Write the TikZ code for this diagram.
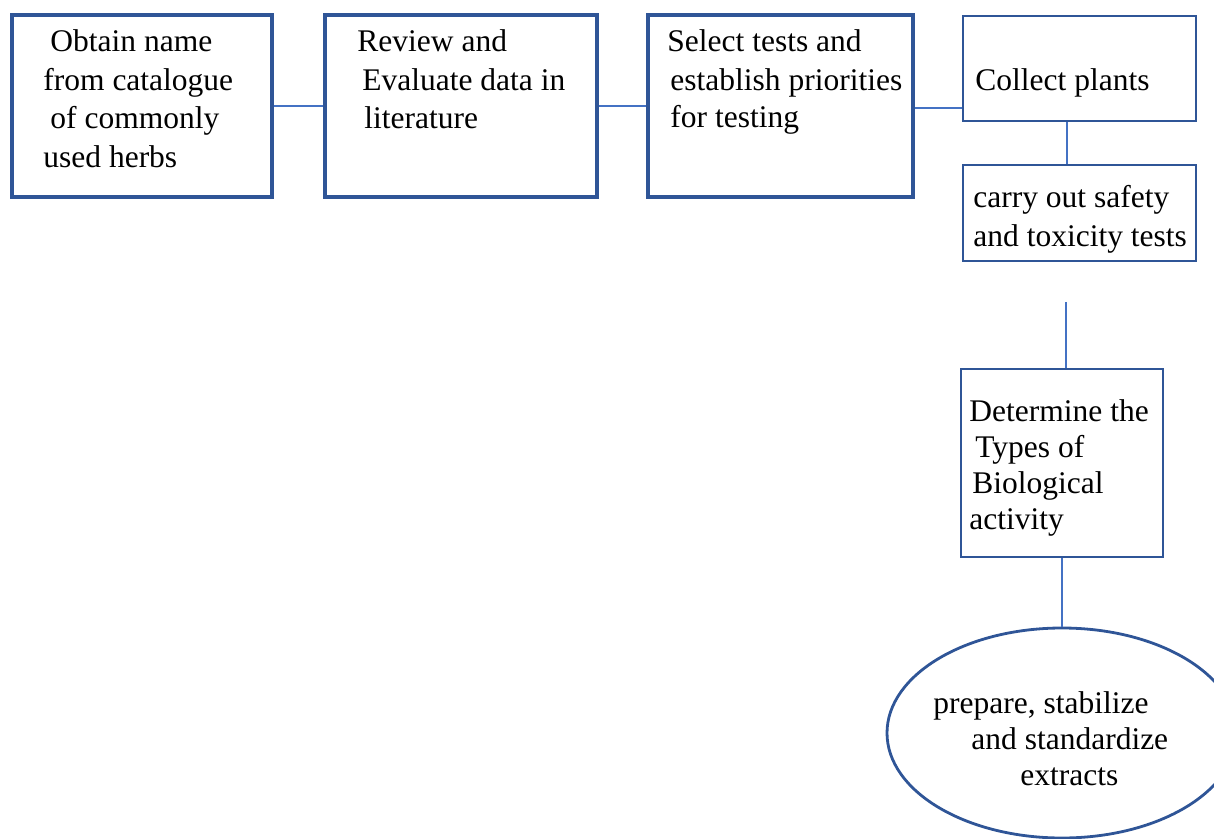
\documentclass[tikz,border=0pt]{standalone}
\usepackage{fontspec}
\setmainfont{Liberation Serif}
\usetikzlibrary{shapes.geometric}
\definecolor{boxblue}{HTML}{2F5597}
\definecolor{linkblue}{HTML}{4472C4}
\tikzset{
  boxthick/.style={draw=boxblue, line width=1.6pt, rectangle, inner sep=0pt, fill=white},
  boxthin/.style={draw=boxblue, line width=1.4pt, rectangle, inner sep=0pt, fill=white},
  oval/.style={draw=boxblue, line width=1.4pt, ellipse, inner sep=0pt, fill=white},
  link/.style={draw=linkblue, line width=0.55pt},
  txt/.style={inner sep=0pt, anchor=base west, font=\fontsize{15.75}{19}\selectfont, text=black}
}
\begin{document}
\begin{tikzpicture}[x=0.5pt,y=-0.5pt]
\useasboundingbox (0,0) rectangle (1214,839);
% boxes
\node[boxthick, minimum width=130pt, minimum height=91pt] (b1) at (142,106) {};
\node[boxthick, minimum width=136pt, minimum height=91pt] (b2) at (461,106) {};
\node[boxthick, minimum width=132.5pt, minimum height=91pt] (b3) at (780.5,106) {};
\node[boxthin, minimum width=116.5pt, minimum height=52.5pt] (b4) at (1079.5,68.5) {};
\node[boxthin, minimum width=116.5pt, minimum height=48pt] (b5) at (1079.5,213) {};
\node[boxthin, minimum width=101pt, minimum height=94pt] (b6) at (1062,463) {};
\node[oval, minimum width=175pt, minimum height=105pt] (e1) at (1062,733) {};
% connectors
\draw[link] (b1.east) -- (b2.west);
\draw[link] (b2.east) -- (b3.west);
\draw[link] ([yshift=-1pt]b3.east) -- ([yshift=-1pt]b3.east -| b4.west);
\coordinate (k4) at (1067,121);
\draw[link] (k4 |- b4.south) -- (k4 |- b5.north);
\coordinate (free) at (1066,302);
\draw[link] (free) -- (free |- b6.north);
\draw[link] (b6.south) -- (e1.north);
% texts
\node[txt] (t1a) at (50,52) {Obtain name};
\node[txt] (t1b) at (43,91) {from catalogue};
\node[txt] (t1c) at (50,129) {of commonly};
\node[txt] (t1d) at (43,168) {used herbs};
\node[txt] (t2a) at (357,52) {Review and};
\node[txt] (t2b) at (362,91) {Evaluate data in};
\node[txt] (t2c) at (364,129) {literature};
\node[txt] (t3a) at (667,52) {Select tests and};
\node[txt] (t3b) at (670,91) {establish priorities};
\node[txt] (t3c) at (670,128) {for testing};
\node[txt] (t4a) at (975,91) {Collect plants};
\node[txt] (t5a) at (973,208) {carry out safety};
\node[txt] (t5b) at (973,247) {and toxicity tests};
\node[txt] (t6a) at (969,421) {Determine the};
\node[txt] (t6b) at (975,457) {Types of};
\node[txt] (t6c) at (972,493) {Biological};
\node[txt] (t6d) at (969,529) {activity};
\node[txt] (t7a) at (933,713) {prepare, stabilize};
\node[txt] (t7b) at (971,749) {and standardize};
\node[txt] (t7c) at (1020,785) {extracts};
\end{tikzpicture}
\end{document}
